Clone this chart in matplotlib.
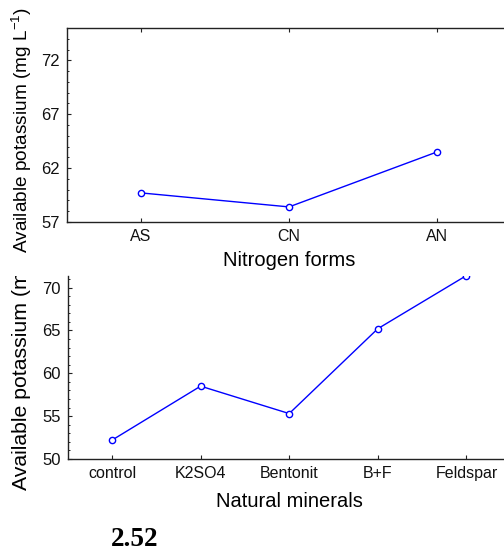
import matplotlib
matplotlib.use("Agg")
import matplotlib.pyplot as plt
from matplotlib.ticker import MultipleLocator
from matplotlib.transforms import Bbox

# data
nitrogen_forms = ["AS", "CN", "AN"]
potassium_n = [59.7, 58.4, 63.5]

minerals = ["control", "K2SO4", "Bentonit", "B+F", "Feldspar"]
potassium_m = [52.2, 58.5, 55.3, 65.2, 71.4]

W, H = 504, 552
plt.rcParams.update({
    "font.family": ["Liberation Sans", "DejaVu Sans"],
    "font.size": 10,
    "axes.linewidth": 1.0,
    "axes.edgecolor": "#222222",
})

fig = plt.figure(figsize=(W / 100, H / 100), dpi=100)


def px_axes(left, right, top, bottom):
    return fig.add_axes([left / W, 1 - bottom / H, (right - left) / W, (bottom - top) / H])


def style(ax, top_ticks):
    ax.spines["right"].set_visible(False)
    ax.tick_params(axis="both", direction="in", length=3, width=0.8,
                   pad=5, colors="#222222", labelcolor="#111111",
                   top=top_ticks, right=False)
    ax.tick_params(axis="x", labelsize=11.5)
    ax.tick_params(axis="y", labelsize=12)
    ax.tick_params(axis="y", which="minor", direction="in", length=1.5, width=0.6,
                   left=True, right=False)
    ax.yaxis.set_minor_locator(MultipleLocator(1))


line_kw = dict(color="#0000ff", lw=1.0, marker="o", ms=4.5, mfc="white",
               mec="#0000ff", mew=1.0)

# top panel: nitrogen forms
ax1 = px_axes(67, 511, 28, 222)
x1 = range(1, len(nitrogen_forms) + 1)
ax1.plot(x1, potassium_n, **line_kw)
ax1.set_xlim(0.5, 3.5)
ax1.set_ylim(57, 75)
ax1.set_yticks([57, 62, 67, 72])
ax1.set_xticks(list(x1))
ax1.set_xticklabels(nitrogen_forms)
style(ax1, top_ticks=True)
ax1.set_xlabel("Nitrogen forms", fontsize=14.5, labelpad=5)

fig.text(22 / W, 1 - 130 / H, "Available potassium (mg L$^{\\mathregular{-1}}$)",
         rotation=90, ha="center", va="center", fontsize=13.7)

# bottom panel: natural minerals (top edge cropped in the source)
ax2 = px_axes(67.7, 510.7, 276, 459)
x2 = range(1, len(minerals) + 1)
ax2.plot(x2, potassium_m, **line_kw)
ax2.set_xlim(0.5, 5.5)
ax2.set_ylim(50, 71.35)
ax2.set_yticks([50, 55, 60, 65, 70])
ax2.set_xticks(list(x2))
ax2.set_xticklabels(minerals)
ax2.spines["top"].set_visible(False)
style(ax2, top_ticks=False)
ax2.set_xlabel("Natural minerals", fontsize=14.5, labelpad=8)

# the source crop cuts this label off at the top of the panel
lab2 = fig.text(22 / W, 1 - 490 / H, "Available potassium (m",
                rotation=90, ha="center", va="bottom", fontsize=15.3)
lab2.set_clip_box(Bbox.from_extents(0, 0, W, H - 276))
lab2.set_clip_on(True)

fig.text(135 / W, 1 - 539 / H, "2.52", ha="center", va="center",
         fontsize=19.5, fontweight="bold", family="Liberation Serif")

fig.savefig("out.png", dpi=100)
